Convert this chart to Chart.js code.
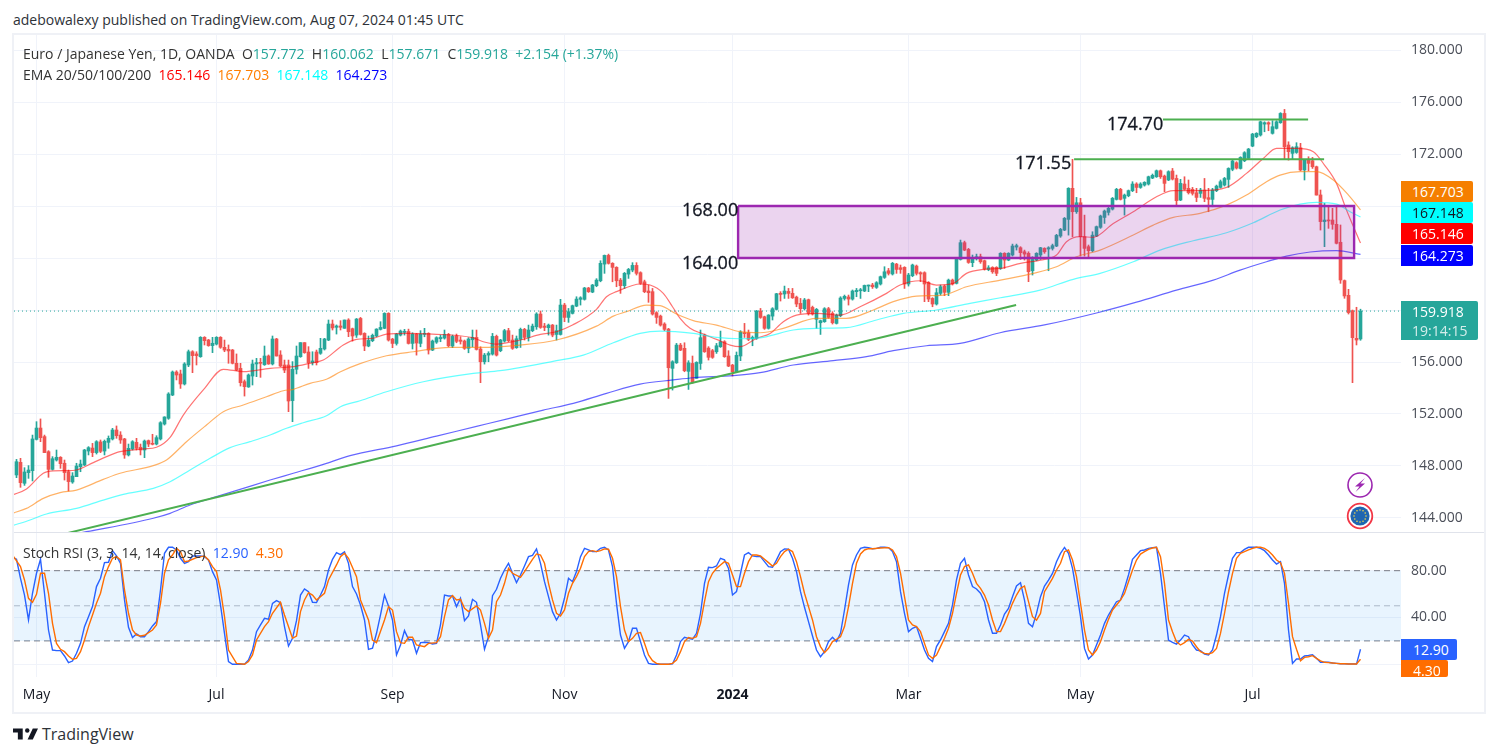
<!DOCTYPE html>
<html><head><meta charset="utf-8">
<script src="https://cdn.jsdelivr.net/npm/chart.js@4"></script>
<style>
html,body{margin:0;padding:0;background:#fff;width:1496px;height:756px;overflow:hidden;font-family:"Open Sans",sans-serif;color:#131722}
canvas{position:absolute;display:block}
.t{position:absolute;white-space:nowrap;font-size:14px;line-height:18px}
.b{position:absolute;height:21px;line-height:21px;color:#fff;font-size:14px;padding-left:11px;box-sizing:border-box;border-radius:0 2px 2px 0}
.n{position:absolute;white-space:nowrap;font-size:18px;line-height:20px;color:#131722;-webkit-text-stroke:.3px #131722}
#frame{position:absolute;left:12px;top:33px;width:1470px;height:677px;border:2px solid #eff1f6}
#sep{position:absolute;left:14px;top:532px;width:1470px;height:1px;background:#e0e3eb}
</style></head><body>
<div id="frame"></div>
<canvas id="price" width="1470" height="497" style="left:14px;top:35px"></canvas>
<canvas id="stoch" width="1470" height="178" style="left:14px;top:533px"></canvas>
<div id="sep"></div>
<div class="t" style="left:13px;top:11px;color:#2e3238">adebowalexy published on TradingView.com, Aug 07, 2024 01:45 UTC</div>
<div class="t" style="left:23px;top:45px;color:#333"><span>Euro / Japanese Yen, 1D, OANDA</span>&nbsp; O<span style="color:#26a69a">157.772</span>&nbsp; H<span style="color:#26a69a">160.062</span>&nbsp; L<span style="color:#26a69a">157.671</span>&nbsp; C<span style="color:#26a69a">159.918</span>&nbsp; <span style="color:#26a69a">+2.154 (+1.37%)</span></div>
<div class="t" style="left:23px;top:66px;color:#333">EMA 20/50/100/200&nbsp; <span style="color:#f00">165.146</span>&nbsp; <span style="color:#ff7f00">167.703</span>&nbsp; <span style="color:#0ff">167.148</span>&nbsp; <span style="color:#00f">164.273</span></div>
<div class="t" style="left:23px;top:544px;color:#333">Stoch RSI (3, 3, 14, 14, close)&nbsp; <span style="color:#2962ff">12.90</span>&nbsp; <span style="color:#ff6d00">4.30</span></div>
<div class="n" style="left:1107px;top:113px">174.70</div>
<div class="n" style="left:1015px;top:152px">171.55</div>
<div class="n" style="left:682px;top:199px">168.00</div>
<div class="n" style="left:682px;top:252px">164.00</div>
<div class="b" style="left:1401px;top:181px;width:72px;background:#f57f00">167.703</div>
<div class="b" style="left:1401px;top:202px;width:72px;background:#0ff;color:#131722">167.148</div>
<div class="b" style="left:1401px;top:223px;width:72px;background:#f00">165.146</div>
<div class="b" style="left:1401px;top:245px;width:72px;background:#00f">164.273</div>
<div class="b" style="left:1401px;top:301px;width:77px;height:39px;background:#26a69a;line-height:19px;padding-top:1px">159.918<br><span style="opacity:.8">19:14:15</span></div>
<div class="b" style="left:1401px;top:639px;width:56px;background:#2962ff;padding-left:12px">12.90</div>
<div class="b" style="left:1401px;top:660px;width:47px;height:17px;background:#ff6d00;padding-left:12px;overflow:hidden">4.30</div>
<svg style="position:absolute;left:1346px;top:471px" width="28" height="60" viewBox="0 0 28 60">
<circle cx="14" cy="14" r="12" fill="#fff" stroke="#9c27b0" stroke-width="1.6"/>
<path d="M19 7 L9 15.500 H13.500 L9.500 21 L19 12.500 H14.500 Z" fill="#9c27b0"/>
<circle cx="14" cy="45" r="12.300" fill="#fff" stroke="#f23645" stroke-width="1.800"/>
<circle cx="14" cy="45" r="9.600" fill="#1f66b1"/>
<g fill="#f5d94a"><circle cx="14" cy="39" r=".8"/><circle cx="17" cy="39.800" r=".8"/><circle cx="19.200" cy="42" r=".8"/><circle cx="20" cy="45" r=".8"/><circle cx="19.200" cy="48" r=".8"/><circle cx="17" cy="50.200" r=".8"/><circle cx="14" cy="51" r=".8"/><circle cx="11" cy="50.200" r=".8"/><circle cx="8.800" cy="48" r=".8"/><circle cx="8" cy="45" r=".8"/><circle cx="8.800" cy="42" r=".8"/><circle cx="11" cy="39.800" r=".8"/></g>
</svg>
<svg style="position:absolute;left:13px;top:727px" width="25" height="14" viewBox="0 0 36 20"><path fill="#131722" d="M14 2H0v6h7v10h7V2Z M36 2H28.500L21 18h7.500Z"/><circle cx="20.500" cy="5" r="3.200" fill="#131722"/></svg>
<div class="t" style="left:42px;top:725px;font-size:16px;color:#2e3238">TradingView</div>
<script>
const firstBar = -5;
const opens = [147.31,148.28,146.67,147.49,147.64,150.05,150.92,150.26,149.1,147.74,148.46,148.67,148.21,147.56,146.77,147.18,147.95,148.08,149.15,149.38,149.03,149.85,149.15,149.82,150.08,150.77,150.38,150.08,148.85,149.31,149.82,149.44,149.23,149.95,149.74,149.69,150.08,151.23,151.67,153.46,155.23,155.08,154.31,155.77,156.79,156.62,156.41,157.9,157.69,157.26,157.38,157.9,157.13,156.97,156.92,155.9,155.51,154.49,154.08,154.92,155.85,155.95,155.79,156.46,155.85,157.77,156.54,155.77,155.77,153.03,155.44,156.41,157.49,156.77,155.95,156.77,156.67,157,157.69,158.92,158.67,158.77,158.59,159.23,
158.56,158.07,159.35,158.2,157.23,157.64,158,158.51,158.59,159.74,157.76,157.43,158.07,158.28,158.35,157.43,158.15,157.43,158.12,158.2,156.92,157.53,157.79,157.84,158.12,157.23,158,157.69,157.61,157.05,157.71,157.89,157,156.02,156.53,156.61,157.97,156.87,157.61,158.41,157.69,157.1,157.74,158.51,157.89,158.41,158.71,159.69,158.76,158.64,158.84,158.12,158.12,160.38,159.43,159.74,160.3,160.82,160.82,161.69,161.38,161.87,162.25,163.53,164.2,163.59,163.28,162.3,161.87,162.76,163.07,163.43,162.87,162.17,161.46,161.41,159.79,159.53,158.92,158.53,155.51,155.94,
157.3,157.05,155.28,155.89,154.74,155.89,158.07,157.07,156.87,156.79,157.18,157.56,156.46,155.76,155.25,156.46,158.25,158.25,157.79,157.82,159.92,159.48,158.59,159.53,160.05,161.28,161.23,161.43,161.28,160.99,160.51,160.1,160.79,160.2,159.28,159.02,159.1,160.1,159.74,158.97,159.56,160.89,161,160.84,161.41,161.48,161.46,161.84,161.92,161.74,162,162.51,163.02,162.77,163.53,163.25,163.28,162,162.64,163.38,162.87,162.87,162.12,160.89,160.46,161.28,161.84,161.36,162.3,162.05,163.89,165.18,164.66,163.64,164.02,164.1,163.79,163.12,163.28,163.28,163.2,
164.36,163.84,164.23,164.84,164.79,164.48,164.36,163.02,163.84,164.23,164.74,164.69,164.74,164.92,165.69,166.15,166.97,169.36,167.56,168.25,165.64,164.87,164.56,165.69,166.36,167.12,167.51,167.76,168.51,169.28,168.59,168.79,169.18,169.69,169.43,169.61,169.69,170.15,170.25,170.71,170.3,170,170.69,170.12,168.46,169.69,169.36,169.28,169.02,168.97,169.23,168.64,168.51,169.18,169.43,169.61,170.05,170.82,171.33,170.89,171.48,171.66,172.61,173.33,173.46,174.3,174.41,173.59,173.97,174.41,175.12,172.69,172.05,172.12,172.48,170.77,171.53,171.48,171.02,
168.85,166.8,166.92,166.92,166.59,165.21,162.26,161.13,159.95,157.82,157.772];
const highs = [148.51,148.59,147.87,148.03,150.38,151.41,151.62,150.38,149.18,148.72,149.23,148.72,148.46,147.69,147.49,148.21,148.46,149.28,149.49,149.74,149.95,150,150,150.31,150.9,151.08,150.64,150.13,149.69,149.95,150.13,149.69,150,150,150.44,150.33,151.41,151.79,153.64,155.31,155.33,155.38,155.95,156.92,156.87,156.79,157.95,157.95,157.74,157.9,157.95,157.95,157.69,157.31,156.97,156.62,155.9,154.62,155.08,156.15,156.28,156.28,157.23,156.54,158,157.82,156.87,156.15,156.15,156.03,157.23,157.49,157.49,157.18,156.79,156.92,157.82,157.82,159.23,159.23,158.85,159.18,159.23,159.33,
158.61,159.35,159.43,158.25,158,158.15,158.56,159.1,159.79,159.79,157.82,158.2,158.46,158.51,158.53,158.25,158.2,158.41,158.59,158.25,157.69,157.94,158.07,158.46,158.2,158.07,158.15,157.94,157.69,157.87,158.46,158.46,157.17,156.66,156.79,158.2,158.07,157.74,158.51,158.59,158.07,158,158.61,158.59,158.84,158.92,159.79,159.92,158.97,158.92,158.89,158.84,160.82,160.51,160.12,160.38,161.02,161.02,161.74,161.74,161.97,162.41,163.79,164.23,164.3,163.64,163.33,162.43,162.89,163.2,163.64,163.64,162.94,162.3,161.92,161.66,159.87,159.61,159.02,158.59,156.1,157.43,
157.43,157.48,156.1,156.46,156.02,158.46,158.15,157.18,156.97,157.43,158.38,157.64,156.87,155.82,156.77,158.41,158.97,158.46,158,159.97,160.12,159.53,159.64,160.18,161.28,161.41,161.84,161.66,161.66,161.07,160.89,160.89,160.84,160.3,160.12,159.23,160.18,160.2,159.87,159.69,161.02,161.15,161.15,161.54,161.66,161.66,161.92,161.92,162.05,162.18,162.61,163.33,163.2,163.66,163.59,163.46,163.33,162.82,163.53,163.46,162.94,162.94,162.18,160.95,161.66,161.92,161.92,162.38,162.38,164.02,165.38,165.3,164.74,164.23,164.3,164.3,163.84,163.41,163.33,163.33,164.41,
164.41,164.41,165.07,165.07,164.87,164.61,164.48,164.1,164.41,164.82,164.79,164.87,165.07,165.82,166.28,167.12,169.41,171.59,168.66,168.59,167.3,165,166.02,166.46,167.3,167.69,167.95,168.66,169.36,169.36,168.92,169.23,169.87,169.79,169.79,169.87,170.3,170.46,170.77,170.77,170.38,170.71,170.89,170.38,170.05,170.25,170,169.43,169.36,169.36,170.12,169.36,169.36,169.61,170,170.2,170.94,171.54,171.41,171.79,172.18,172.43,173.59,173.64,174.53,174.48,174.48,174.56,174.56,175.18,175.43,172.94,172.56,172.87,172.82,171.59,171.79,171.74,171.07,
169.23,168.21,168,167.82,167.95,166.54,162.31,161.59,160,160.21,160.062];
const lows = [147.1,146.36,146.51,147.05,146.85,150,149.87,149.03,147.13,147.69,148.38,147.82,146.92,146.08,146.67,147.18,147.56,148.03,148.85,148.72,148.92,149.03,148.85,149.36,150,150.13,149.74,148.59,148.77,149.23,149.23,148.85,148.64,149.49,149.62,149.62,150,151.15,151.59,153.41,154.62,153.97,154.23,155.64,155.18,155.77,156.36,157.31,157.21,156.72,157.31,157.05,156.79,155.9,155.85,155.33,154.15,153.38,154.05,154.23,154.87,154.82,155.74,155.82,155.77,156.46,155.64,155.18,152.18,151.41,155.08,156.36,156.67,155.51,155.77,155.77,156.59,156.92,157.64,158.46,158.15,158.46,158.59,157.95,
157.61,157.89,158.07,156.87,157.17,157.56,157.94,158.46,158.56,157.61,157.1,157.3,158,158.07,157.38,157,156.53,157.17,157.94,156.61,156.87,157.43,157.56,157.76,157.17,157.1,157.48,157.38,156.97,156.71,157.17,156.92,154.41,155.84,156.02,156.53,156.46,156.79,157.53,157.56,156.97,157.05,157.12,157.69,157.61,158.33,158.51,158.59,158.41,158.07,157.94,157.69,158.07,159.1,159.05,159.69,160.25,160.38,160.76,161.35,161.33,161.79,162.17,162.82,163.53,162.17,161.79,161.28,161.66,162.43,162.94,162.69,161.97,161.33,160.59,159.61,158.97,158.76,158.41,153.2,153.84,155.89,
156.87,155.25,153.89,154.36,154.74,155.43,156.74,156.15,156.28,156.66,157.12,156.36,155.64,154.92,155.18,156.1,157.89,157.64,157.25,157.74,159.36,158.51,158.53,159.23,160,160.69,160.89,160.89,160.89,160.25,159.74,160,159.61,159.61,158.59,158.12,159.05,159.36,158.92,158.92,159.48,160.76,160.38,160.76,161.02,160.89,161.41,161.41,161.66,161.66,161.92,162.43,162.69,162.69,162.82,162.82,161.66,161.84,162.56,162.69,162.18,160.64,160.64,160.25,160.38,161.15,161.1,161.1,161.92,162,163.84,164.56,163.59,163.33,163.84,163.59,163.07,163.02,162.82,162.64,163.12,
163.2,163.79,164.15,164.61,163.89,163.84,162.18,162.69,163.79,163.89,164.36,163.02,164.61,164.87,165.59,166.1,165.76,165.64,167.43,164.15,164.15,164.05,164.48,165.64,166.28,166.66,167.3,167.69,168.46,168.46,167.3,168.71,169.1,169.02,169.36,169.53,169.61,170.1,170.2,170.12,169.1,169.95,170,168,168.41,169.23,168.92,168.84,168.33,168.66,168.33,167.56,167.94,169.1,169.38,169.53,169.43,170.71,170.84,170.84,171.41,171.59,172.56,173.25,173.38,173.71,173.79,173.53,173.92,174.36,171.59,171.53,171.59,172.05,170.71,170,170.71,170.89,168.84,
166.15,164.87,166.28,166.21,165.08,162.05,160.9,159.69,154.41,157.31,157.671];
const closes = [148.33,146.72,147.54,147.69,150.08,150.92,150.18,149.03,147.74,148.56,148.67,148.18,147.49,146.8,147.23,148,148.15,149.23,149.41,149.03,149.87,149.13,149.9,150.13,150.77,150.33,150,148.85,149.36,149.87,149.36,149.23,149.92,149.69,149.67,150.18,151.33,151.77,153.54,155.23,155,154.31,155.85,156.79,156.49,156.49,157.9,157.64,157.26,157.44,157.9,157.13,156.92,156.85,155.9,155.38,154.41,154.1,155,155.85,155.95,155.9,156.46,155.85,157.77,156.46,155.69,155.38,153,155.44,156.46,157.49,156.72,155.95,156.08,155.95,157.05,157.77,158.92,158.62,158.77,158.67,159.23,158.33,
158,159.3,158.12,157.23,157.66,158.05,158.53,158.66,159.74,157.69,157.43,158.15,158.38,158.35,157.43,158.15,157.46,158.15,158.2,156.92,157.61,157.87,157.89,158.12,157.25,157.97,157.59,157.59,157.05,157.77,157.89,156.97,156.02,156.53,156.66,157.97,156.53,157.69,158.41,157.64,157.05,157.79,158.51,157.89,158.46,158.76,159.69,158.66,158.66,158.84,158.07,158.41,160.38,159.43,159.87,160.33,160.84,160.94,161.69,161.41,161.92,162.3,163.59,164.2,163.59,163.28,162.25,161.87,162.82,163.12,163.43,162.82,162.05,161.41,161.33,159.69,159.43,158.84,158.51,155.56,156.02,157.3,
156.92,155.33,155.94,154.41,155.97,157.87,156.79,156.36,156.36,157.25,157.56,156.41,155.69,155.25,156.51,158.3,158.18,157.74,157.89,159.92,159.43,158.59,159.61,160.1,161.25,161.2,161.46,161.28,160.94,160.46,160.1,160.77,159.74,159.69,160.05,159.18,160.1,159.43,159.02,159.61,160.92,161.05,160.84,161.46,161.51,161.56,161.89,161.92,161.79,162.1,162.56,162.94,162.82,163.59,163.12,163.12,162,162.69,163.46,162.82,162.77,162,160.84,160.46,161.33,161.79,161.36,162.3,162,163.97,165.18,164.61,163.66,164.05,164.1,163.71,163.15,163.25,162.94,162.82,164.36,
163.84,164.36,164.92,164.95,164.41,164.3,162.95,163.89,164.36,164.79,164.48,164.79,164.95,165.74,166.2,167.05,169.36,167.56,168.25,165.64,164.74,164.56,165.76,166.41,167.23,167.61,167.82,168.59,169.28,168.51,168.84,169.18,169.69,169.43,169.69,169.82,170.25,170.36,170.71,170.25,169.74,170.64,170.07,168.41,169.74,169.28,169.02,168.97,168.66,169.23,168.59,168.51,169.23,169.53,169.87,170.12,170.89,171.46,170.92,171.74,172.1,172.38,173.53,173.59,174.48,174.41,174.3,174.1,174.48,175.12,172.56,172.18,172.48,172.56,170.77,171.53,171.28,171.02,168.84,
166.8,166.92,166.85,166.59,165.13,162.31,161.08,159.8,157.87,157.69,159.918];

const ema20Idx = [-6,-2.5,1.7,4.2,7.5,10,14.2,17.5,20.9,26.7,30,33.4,36.7,41.7,46.7,51.7,58.4,64.2,68.3,71.7,76.7,80,84,87.5,92.5,99,109,111.7,115,121,126,130,134,140,142.5,145,151,153.4,156.7,159,160.9,163.4,166.7,170,173.4,175.9,180,183.4,186.7,190,195,200.9,205.9,212.5,215.9,220.9,225,229.2,232.5,236.7,241,246,251,255,257.5,260.9,264.2,269.2,274.2,280,284.2,290.9,297.5,302.5,306.7,310,315,319.2,322,325,327.5,331];
const ema20 = [145.77,146.23,147.44,147.62,147.64,147.69,148.26,148.72,149.1,149.31,149.44,150.2,151.92,153.85,155.44,155.26,155.51,155.64,155.9,156.15,157.31,157.74,157.82,158.15,158.2,158.15,157.87,157.56,157.38,157.69,158.12,158.33,158.84,160.05,161.02,161.41,162,161.92,161.28,160.25,159.36,158.59,158.15,157.74,157.3,157.18,157.82,158.2,159.1,159.61,159.74,159.61,160.25,161.28,161.92,162.25,161.92,162.05,162.82,163.12,163.2,163.59,163.84,164.23,165.25,165.64,165.59,166.66,167.56,168.71,169.18,169.18,169.43,170.51,171.66,172.43,172.43,172.18,171.15,169.74,167.69,165.146];
const ema50Idx = [-6,-2.5,1.7,5.9,10,16.7,20.9,29.2,32.5,37.5,42.5,46.7,51.7,57.5,61.7,64.2,68.4,72.5,76,80.9,87.5,94.2,103.4,110.9,120.9,130,140,144.2,147.5,152.5,155.9,160,164.2,170,175.9,180.9,186.7,195,202.5,209.2,214.2,220,226.7,232.5,241,249.2,255,260,265.9,274.2,279.2,284.2,290.9,297.5,302.5,307.5,310.9,315.9,320,324.2,328,331];
const ema50 = [144.36,144.74,145.51,145.95,146.15,146.97,147.44,148.03,148.46,149.87,151.15,152.18,152.69,153.33,153.79,153.9,154.36,154.67,155.25,155.87,156.48,156.79,157.12,157.12,157.3,157.69,158.76,159.53,159.87,160.38,160.33,159.69,159.18,158.84,158.33,158.25,158.59,159.36,159.36,160,160.64,161.07,161.15,161.79,162.3,162.82,163.33,164.1,164.61,165.77,166.53,167.12,167.43,168.07,168.84,169.87,170.38,170.64,170.64,170,168.84,167.703];
const ema100Idx = [-6,-1.6,2.5,10,16.7,21.7,29.2,33.4,38.4,43.4,48.4,53.4,58.4,62.5,66.7,72.5,76,80.9,87.5,96.7,109.2,115.9,130,136.7,144.2,150.9,155.9,164.2,170,175.9,181.7,189.2,195,202.5,210,216.7,225,233.4,241,250.9,259.2,265.9,274.2,280.9,289.2,297.5,304.2,310.9,315.9,320,325,328.4,331];
const ema100 = [143.41,143.85,144.31,144.74,145.38,145.82,146.28,146.79,147.69,148.59,149.41,149.87,150.38,150.9,151.33,151.87,152.56,153.02,153.71,154.48,155.12,155.33,156.1,156.53,157.48,158.2,158.38,158.2,157.9,157.79,157.9,158.46,158.59,158.64,159.23,159.74,160,160.51,160.94,161.53,162.36,162.82,163.71,164.61,165.33,165.94,166.71,167.69,168.15,168.28,168.15,167.56,167.148];
const ema200Idx = [8,15,29.2,33.4,38.4,45,51.7,58.4,64.2,72.5,78.4,90,100,110,118,126.7,134.2,142.5,150.9,159.2,164.2,174.2,180.9,189.2,199.2,207.5,214.2,222.5,230.9,240.9,252,265,275,285,294.2,300.9,307.5,312.5,318.4,325,331];
const ema200 = [142.7,143.08,143.98,144.36,145,145.64,146.28,146.92,147.44,148.2,148.8,149.55,150.3,151.05,151.65,152.3,152.82,153.59,154.3,154.62,154.79,154.95,155.18,155.77,156.1,156.41,156.87,157.25,157.43,158.25,158.85,159.77,160.6,161.53,162.3,163.07,163.71,164.15,164.46,164.56,164.273];

const trendIdx = [7.9,244.9];
const trendPrice = [142.85,160.38];
const level1Idx = [281.6,317.9];
const level1Price = [174.65,174.65];
const level2Idx = [259.4,321.9];
const level2Price = [171.59,171.59];
const boxIdx = [175.4,329.4];
const boxPrice = [168,164];
const lastClose = 159.918;

const stochStart = -6;
const stochK = [91.4,89.7,73.5,59.2,37.9,60.7,77.8,89.7,60.7,29.3,12.2,11.7,11.7,7.1,1.4,2.8,9.4,17.9,32.2,40.7,49.3,66.4,73.5,86.9,87.2,97.1,92.6,86.3,55,31.6,22.8,25.9,23.6,23.6,27.9,32.8,36.5,63.5,94.9,100,100,97.7,90.6,86.3,87.7,92.6,92.6,92.6,92,89.2,79.2,72.1,50.7,26.5,2.3,0,0,0,0,3.7,12.2,27.9,33.6,39.3,38.5,52.1,54.4,52.7,32.2,15.6,22.2,37.3,59.2,64.4,62.1,53,52.7,59.2,66.4,80.6,89.7,95.4,93.7,96,86.3,66.4,60.1,50.7,37.9,12.8,13.7,26.5,42.2,59.2,49.8,37.9,8,16.5,28.8,21.4,20.8,9.4,18.5,18.8,18.5,17.4,17.9,33.6,59.2,58.4,58.4,49.3,56.4,37.3,41.3,55.5,53,33.6,12.8,23.6,58.7,64.1,
73.5,80.6,86.3,77.8,69.8,76.3,84,92,93.1,98.6,86.3,70.6,57.8,45,37.9,43.6,56.4,73.5,70.6,79.2,92,99.1,97.7,96.3,96.3,99.1,100,97.7,83.5,52.1,25,13.7,19.4,30.8,30.8,19.4,8,0.8,0,0,0,0,0,0.3,8,19.4,23.1,22.2,21.4,26.5,43.6,69.2,82.9,82.6,84,90.6,89.2,82,59.2,62.1,77.8,93.4,95.4,92.6,92,92,87.7,83.5,82.9,89.2,96.3,98.6,98.3,90.6,79.2,62.1,48.7,36.5,24.2,12.2,6.5,10.8,19.4,23.1,19.4,26.5,46.4,67.8,84.9,93.4,99.1,100,99.7,98.8,99.1,100,100,99.7,96.3,87.7,62.1,43.6,27.9,30.8,32.2,22.2,12.2,5.1,2.3,15.1,20.8,27.9,35,50.7,72.1,86.3,90.6,76.3,66.4,64.4,60.7,53.5,37.9,26.5,26.5,
33.6,43,47.8,57.8,66.9,69.7,54.9,35,32.1,43.5,57.8,66.9,72,77.7,87.7,94.8,99.9,94.8,82,62,40.7,13.6,4.5,7.9,16.5,25,35,42.1,47.8,53.5,54.9,64.9,76.3,89.7,93.4,97.1,97.7,99.1,99.7,100,77.7,49.2,20.7,18.7,17.3,20.7,25,23.6,16.5,12.2,11.6,8.8,7.9,12.2,25,40.7,60.6,76.3,90.5,95.4,95.4,98.2,100,100,100,99.1,97.1,93.4,89.1,85.7,87.7,69.2,29.3,0.8,4.5,4.5,7.1,7.6,8.2,5.1,1.7,1.7,1.7,1.1,0.8,0.5,0.5,0.2,0.2,0.2,12.9];
const stochDIdx = [-6,-4,-3,-2,-1,0,1,2,3,4,5,6,7,8,9,10,11,12,13,14,15,16,17,18,19,20,21,22,23,24,25,26,27,29,30,31,32,33,34,35,36,37,38,40,42,43,44,45,46,47,48,50,52,53,54,55,57,58,59,61,62,64,65,66,67,68,69,70,72,73,75,76,77,78,80,81,83,84,85,87,88,89,90,91,92,93,94,95,97,98,100,101,102,103,104,105,106,107,108,110,111,112,113,114,115,
116,117,118,119,121,122,124,125,126,127,128,129,130,131,132,133,134,135,136,137,138,139,140,141,142,143,144,145,146,147,148,149,150,151,152,153,154,155,156,158,159,160,161,162,163,164,165,166,167,168,169,170,171,172,173,174,175,176,177,178,179,180,181,182,183,184,185,186,187,188,189,190,191,192,193,194,195,196,197,198,199,200,201,202,203,204,205,206,207,208,209,211,213,214,215,216,217,218,219,220,221,222,223,224,225,226,227,228,229,230,231,232,233,234,235,236,237,238,239,240,
241,242,243,244,245,246,247,248,249,250,251,252,253,254,255,256,257,258,259,260,261,262,263,264,265,266,267,268,269,270,271,272,273,274,275,276,277,278,279,280,281,282,283,284,285,286,287,288,289,290,291,292,293,294,295,296,297,298,299,300,301,302,303,304,305,306,307,308,309,310,311,312,313,314,315,316,317,318,319,320,321,322,323,324,325,326,327,328,329,330,331];
const stochD = [93.4,83.5,72.1,56.4,53,59.8,77.8,77.8,60.7,35,17.9,12.8,10.8,7.1,4.3,5.1,10.8,20.8,32.2,42.2,52.1,60.7,74.9,83.5,90.6,92,89.2,63.5,43.6,29.3,25,24.2,24.8,29.3,33.6,52.1,77.8,89.2,93.4,99.1,96.3,87.7,88.3,91.2,92.6,89.2,83.5,79.2,63.5,40.7,12.2,0.8,0,2.3,8,20.8,32.2,36.5,43.6,53,42.2,22.2,24.2,45,55,61.2,59.2,55,60.7,72.1,84.9,92,94.9,90.6,74.9,55,37.9,20.8,18.5,37.9,49.3,46.4,27.9,18.5,17.9,23.1,23.1,16.5,15.1,17.9,18.5,23.6,40.7,55,58.7,55,55.5,47.8,45,49.8,46.4,35,22.2,29.3,53.5,
59.2,69.2,82,77.8,74.3,79.2,89.7,94.3,93.4,86.3,69.2,55,43.6,41.3,46.4,60.7,69.2,74.9,82,92,96.3,97.1,96.3,97.1,98.6,98.3,90.6,74.9,49.3,29.3,19.4,22.2,26.5,27.1,17.9,8,3.1,0.8,0,0,0.8,3.7,10.8,19.4,22.8,22.2,23.6,35,53.5,70.6,77.8,82,84.9,87.7,86.3,76.3,66.4,66.4,77.8,87.7,93.4,93.4,92.6,89.7,86.9,84,86.3,92,96.3,98.3,96.3,87.7,74.9,60.7,49.3,37.9,23.6,15.1,10,13.7,19.4,21.4,23.6,32.2,49.3,69.2,86.3,94.3,97.7,98.8,98.8,99.4,99.7,97.7,92,77.8,57.8,37.9,33.6,32.2,27.9,17.9,8,5.1,8,15.1,22.2,30.8,43.6,60.7,76.3,83.5,84.9,77.8,69.2,64.9,59.2,50.7,37.9,27.9,
27.9,35,43.5,52.1,59.2,64.9,66.9,53.5,40.7,37.8,43.5,62,67.7,73.4,80.6,86.3,96.2,97.7,89.1,74.9,52.1,29.3,12.2,7.9,12.2,19.3,29.3,38.4,46.4,50.7,54.9,60.6,70.6,80.6,89.1,94.2,96.2,98.2,99.4,100,92,69.2,37.8,27.9,19.3,16.5,18.5,21.3,19.9,15,10.8,9.3,8.8,9.9,13.6,26.4,43.5,62,77.7,90.5,94.8,96.2,97.7,99.1,100,100,99.1,96.8,93.4,89.1,86.8,77.7,52,23.6,12.8,3,5.9,6.5,7.4,5.1,3,1.7,1.4,1.1,0.8,0.5,0.5,0.2,0.2,0.2,4.3];
const bandValues = [80,50,20];

const monthIdx = [0,45,89,132,174,218,261,304];
const monthLabels = ['May','Jul','Sep','Nov','2024','Mar','May','Jul'];
const priceTicks = [144,148,152,156,160,164,168,172,176,180];
const priceTicksHidden = [160,164,168];
const stochTicks = [0,40,80];
const stochTicksHidden = [0];

const UP='#26a69a', DOWN='#ef5350', TXT='#131722', GRID='#f0f3fa';
const FONT='"Open Sans", sans-serif';
const XMIN=-5.625, XMAX=341.125; // chart-area limits in bar numbers
const barColors = closes.map((c,i)=> c>=opens[i]?UP:DOWN);
const xy=(xs,ys)=>xs.map((x,i)=>({x,y:ys[i]}));
const line=(xs,ys,color,width,order,extra)=>Object.assign({type:'line',data:xy(xs,ys),borderColor:color,borderWidth:width,pointRadius:0,tension:0,order,fill:false},extra||{});
const ema=(xs,ys,color)=>line(xs,ys,color,1.2,2,{cubicInterpolationMode:'monotone'});
const bx=boxIdx, bp=boxPrice;
const xScale=(display)=>({type:'linear',offset:false,min:XMIN,max:XMAX,
  afterBuildTicks:s=>{s.ticks=monthIdx.map(v=>({value:v}));},
  grid:{color:GRID,drawTicks:false,lineWidth:1,offset:false},border:{display:false},
  ticks:{display,autoSkip:false,maxRotation:0,padding:10,color:TXT,
    font:c=>({family:FONT,size:14,weight:monthLabels[monthIdx.indexOf(c.tick&&c.tick.value)]==='2024'?'bold':'normal'}),
    callback:v=>{const i=monthIdx.indexOf(v);return i<0?'':monthLabels[i];}},
  afterFit:s=>{s.height=display?34:0;s.paddingLeft=0;s.paddingRight=0;}});
const yFit=s=>{s.width=83;s.paddingTop=0;s.paddingBottom=0;};

new Chart(document.getElementById('price'),{
  type:'bar',
  data:{datasets:[
    {label:'body',data:opens.map((o,i)=>({x:i+firstBar,y:[o,closes[i]]})),backgroundColor:barColors,barThickness:3,grouped:false,minBarLength:1,order:4},
    {label:'wick',data:highs.map((h,i)=>({x:i+firstBar,y:[lows[i],h]})),backgroundColor:barColors,barThickness:1,grouped:false,order:5},
    ema(ema200Idx,ema200,'rgba(0,0,255,.6)'),
    ema(ema100Idx,ema100,'rgba(0,255,255,.6)'),
    ema(ema50Idx,ema50,'rgba(255,127,0,.6)'),
    ema(ema20Idx,ema20,'rgba(255,0,0,.55)'),
    line(trendIdx,trendPrice,'#4caf50',2,1),
    line(level1Idx,level1Price,'#4caf50',2,1),
    line(level2Idx,level2Price,'#4caf50',2,1),
    line([XMIN,XMAX],[lastClose,lastClose],UP,1,1,{borderDash:[1,3]}),
    line([bx[0],bx[1],bx[1],bx[0],bx[0]],[bp[0],bp[0],bp[1],bp[1],bp[0]],'#9c27b0',2.4,0,{fill:'shape',backgroundColor:'rgba(156,39,176,.2)',borderJoinStyle:'miter'})
  ]},
  options:{responsive:false,animation:false,devicePixelRatio:1,layout:{padding:0},
    plugins:{legend:{display:false},tooltip:{enabled:false},title:{display:false}},
    scales:{x:xScale(false),
      y:{position:'right',min:142.923,max:181.154,
        afterBuildTicks:s=>{s.ticks=priceTicks.map(v=>({value:v}));},
        afterFit:yFit,
        grid:{color:GRID,drawTicks:false},border:{display:false},
        ticks:{color:'#4a4e58',padding:10,font:{family:FONT,size:14},
          callback:v=>priceTicksHidden.includes(v)?'':v.toFixed(3)}}}}
});

new Chart(document.getElementById('stoch'),{
  type:'line',
  data:{datasets:[
    line(stochK.map((_,i)=>i+stochStart),stochK,'#2962ff',1.4,2),
    line(stochDIdx,stochD,'#ff6d00',1.4,1),
    line([XMIN,XMAX],[bandValues[0],bandValues[0]],'#787b86',1,5,{borderDash:[6,4],fill:{target:{value:bandValues[2]}},backgroundColor:'rgba(33,150,243,.1)'}),
    line([XMIN,XMAX],[bandValues[1],bandValues[1]],'rgba(120,123,134,.5)',1,5,{borderDash:[6,4]}),
    line([XMIN,XMAX],[bandValues[2],bandValues[2]],'#787b86',1,5,{borderDash:[6,4]})
  ]},
  options:{responsive:false,animation:false,devicePixelRatio:1,layout:{padding:0},
    plugins:{legend:{display:false},tooltip:{enabled:false},title:{display:false}},
    scales:{x:xScale(true),
      y:{position:'right',min:-10.85,max:112.2,
        afterBuildTicks:s=>{s.ticks=stochTicks.map(v=>({value:v}));},
        afterFit:yFit,
        grid:{color:GRID,drawTicks:false},border:{display:false},
        ticks:{color:'#4a4e58',padding:10,font:{family:FONT,size:14},
          callback:v=>stochTicksHidden.includes(v)?'':v.toFixed(2)}}}}
});
</script>
</body></html>
